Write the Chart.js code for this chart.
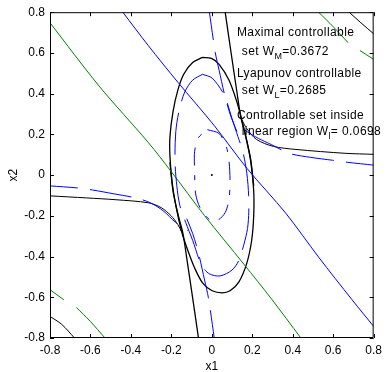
<!DOCTYPE html>
<html>
<head>
<meta charset="utf-8">
<script src="https://cdn.jsdelivr.net/npm/chart.js@4/dist/chart.umd.min.js"></script>
<style>
  html, body { margin: 0; padding: 0; background: #fff; }
  canvas { display: block; }
</style>
</head>
<body>
<canvas id="chart" width="387" height="372"></canvas>
<script>
// tick positions and labels
const tickValues = [-0.8, -0.6, -0.4, -0.2, 0, 0.2, 0.4, 0.6, 0.8];
const tickLabels = ['-0.8', '-0.6', '-0.4', '-0.2', '0', '0.2', '0.4', '0.6', '0.8'];

// curves, [x1, x2]
// maximal controllable set (black)
const blackEllipse = [[-0.046,0.578],[-0.002,0.573],[0.036,0.544],[0.085,0.466],[0.124,0.359],[0.148,0.272],[0.173,0.165],[0.192,0.068],[0.207,-0.078],[0.207,-0.199],[0.197,-0.320],[0.173,-0.432],[0.134,-0.524],[0.090,-0.568],[0.051,-0.578],[0.002,-0.568],[-0.046,-0.529],[-0.085,-0.456],[-0.119,-0.369],[-0.148,-0.282],[-0.178,-0.150],[-0.197,-0.029],[-0.207,0.092],[-0.207,0.189],[-0.192,0.311],[-0.168,0.417],[-0.139,0.495],[-0.095,0.553],[-0.046,0.578]];
const blackArmRight = [[0.8,0.102],[0.659,0.107],[0.416,0.126],[0.304,0.141],[0.221,0.175],[0.173,0.228],[0.148,0.272]];
const blackArmLeft = [[-0.8,-0.102],[-0.620,-0.112],[-0.474,-0.121],[-0.314,-0.136],[-0.250,-0.160],[-0.202,-0.199],[-0.168,-0.243],[-0.148,-0.282]];
const blackStemTop = [[0.066,0.8],[0.095,0.602],[0.124,0.408],[0.143,0.286],[0.168,0.189],[0.192,0.078],[0.207,-0.053]];
const blackStemBottom = [[-0.066,-0.8],[-0.095,-0.602],[-0.124,-0.408],[-0.143,-0.286],[-0.168,-0.189],[-0.192,-0.078],[-0.207,0.063]];
const blackCornerTR = [[0.679,0.8],[0.737,0.748],[0.8,0.694]];
const blackCornerBL = [[-0.8,-0.694],[-0.742,-0.733],[-0.679,-0.8]];
const originDot = [[0, 0]];

// green lines
const greenMain = [[-0.8,0.748],[-0.557,0.437],[-0.314,0.160],[-0.202,0.019],[-0.036,-0.199],[0.158,-0.437],[0.294,-0.607],[0.44,-0.8]];
const greenTRa = [[0.528,0.8],[0.601,0.728],[0.674,0.650]];
const greenTRb = [[0.732,0.612],[0.8,0.568]];
const greenBLa = [[-0.8,-0.563],[-0.732,-0.612]];
const greenBLb = [[-0.669,-0.650],[-0.601,-0.718],[-0.528,-0.8]];

// blue solid line
const blueLine = [[-0.440,0.8],[-0.314,0.636],[-0.168,0.456],[0.012,0.243],[0.173,0.034],[0.367,-0.189],[0.528,-0.403],[0.693,-0.612],[0.8,-0.743]];

// Lyapunov controllable set (blue dashed)
const blueEllipse = [[-0.046,0.495],[0.002,0.476],[0.061,0.393],[0.100,0.277],[0.129,0.189],[0.153,0.117],[0.173,0.010],[0.182,-0.102],[0.182,-0.199],[0.173,-0.282],[0.134,-0.417],[0.100,-0.466],[0.041,-0.495],[-0.012,-0.485],[-0.051,-0.442],[-0.095,-0.320],[-0.129,-0.233],[-0.158,-0.150],[-0.173,-0.053],[-0.182,0.068],[-0.178,0.214],[-0.163,0.311],[-0.134,0.408],[-0.095,0.466],[-0.046,0.495]];
const blueArmRight = [[0.8,0.049],[0.669,0.063],[0.596,0.073],[0.489,0.087],[0.382,0.107],[0.294,0.150],[0.231,0.180],[0.173,0.214],[0.114,0.262]];
const blueArmLeft = [[-0.8,-0.053],[-0.664,-0.063],[-0.591,-0.073],[-0.484,-0.092],[-0.377,-0.112],[-0.304,-0.136],[-0.241,-0.175],[-0.178,-0.233],[-0.119,-0.272]];
const blueStemTop = [[-0.012,0.8],[0.017,0.602],[0.036,0.515],[0.066,0.383],[0.095,0.286],[0.124,0.214]];
const blueStemBottom = [[0.012,-0.8],[-0.017,-0.602],[-0.036,-0.515],[-0.066,-0.383],[-0.095,-0.286],[-0.124,-0.214]];

// controllable set inside linear region (blue dash-dot)
const innerEllipse = [[-0.022,0.223],[0.036,0.204],[0.071,0.141],[0.085,0.068],[0.090,-0.029],[0.085,-0.117],[0.066,-0.184],[0.027,-0.223],[-0.012,-0.218],[-0.056,-0.165],[-0.080,-0.092],[-0.085,0.019],[-0.085,0.117],[-0.066,0.184],[-0.022,0.223]];

// annotation text: [x1, x2, normal, subscript, normal]
const notes = [
  [0.124, 0.684, 'Maximal controllable', '', ''],
  [0.148, 0.592, 'set W', 'M', '=0.3672'],
  [0.124, 0.481, 'Lyapunov controllable', '', ''],
  [0.148, 0.398, 'set W', 'L', '=0.2685'],
  [0.124, 0.277, 'Controllable set inside', '', ''],
  [0.148, 0.199, 'linear region W', 'l', '= 0.0698']
];

const FONT = '"Liberation Sans", Arial, sans-serif';

function pts(arr) {
  return arr.map(p => ({ x: p[0], y: p[1] }));
}

function line(arr, color, extra) {
  return Object.assign({
    data: pts(arr),
    borderColor: color,
    borderWidth: 1,
    pointRadius: 0,
    showLine: true,
    fill: false,
    tension: 0.3
  }, extra || {});
}

const lyapDash = { borderDash: [42, 12], borderDashOffset: 14 };
const innerDash = { borderDash: [18, 10, 5, 10] };

// plugin: box, inward ticks and the text notes
const boxAndNotes = {
  id: 'boxAndNotes',
  afterDatasetsDraw(chart) {
    const { ctx, chartArea: a, scales: { x, y } } = chart;
    ctx.save();
    ctx.strokeStyle = '#000';
    ctx.lineWidth = 1;
    ctx.beginPath();
    ctx.rect(a.left + 0.5, a.top + 0.5, a.right - a.left - 1, a.bottom - a.top - 1);
    ctx.stroke();

    ctx.beginPath();
    tickValues.forEach(v => {
      const px = Math.round(x.getPixelForValue(v)) + 0.5;
      ctx.moveTo(px, a.bottom); ctx.lineTo(px, a.bottom - 4);
      ctx.moveTo(px, a.top); ctx.lineTo(px, a.top + 4);
      const py = Math.round(y.getPixelForValue(v)) + 0.5;
      ctx.moveTo(a.left, py); ctx.lineTo(a.left + 4, py);
      ctx.moveTo(a.right, py); ctx.lineTo(a.right - 4, py);
    });
    ctx.stroke();

    ctx.fillStyle = '#000';
    ctx.textBaseline = 'alphabetic';
    ctx.textAlign = 'left';
    ctx.letterSpacing = '0.4px';
    notes.forEach(n => {
      let px = x.getPixelForValue(n[0]);
      const py = y.getPixelForValue(n[1]);
      ctx.font = '12px ' + FONT;
      ctx.fillText(n[2], px, py);
      px += ctx.measureText(n[2]).width;
      if (n[3]) {
        ctx.font = '9px ' + FONT;
        ctx.fillText(n[3], px, py + 4);
        px += ctx.measureText(n[3]).width;
        ctx.font = '12px ' + FONT;
        ctx.fillText(n[4], px, py);
      }
    });
    ctx.restore();
  }
};

document.addEventListener('DOMContentLoaded', () => {
  const ctx = document.getElementById('chart');
  new Chart(ctx, {
    type: 'scatter',
    data: {
      datasets: [
        line(innerEllipse, '#0000ff', innerDash),
        line(blueEllipse, '#0000ff', lyapDash),
        line(blueArmRight, '#0000ff', lyapDash),
        line(blueArmLeft, '#0000ff', lyapDash),
        line(blueStemTop, '#0000ff', lyapDash),
        line(blueStemBottom, '#0000ff', lyapDash),
        line(blueLine, '#0000ff'),
        line(greenMain, '#008000'),
        line(greenTRa, '#008000'),
        line(greenTRb, '#008000'),
        line(greenBLa, '#008000'),
        line(greenBLb, '#008000'),
        line(blackEllipse, '#000000', { borderWidth: 1.3 }),
        line(blackArmRight, '#000000'),
        line(blackArmLeft, '#000000'),
        line(blackStemTop, '#000000', { borderWidth: 1.3 }),
        line(blackStemBottom, '#000000', { borderWidth: 1.3 }),
        line(blackCornerTR, '#000000'),
        line(blackCornerBL, '#000000'),
        { data: pts(originDot), pointRadius: 1, pointBackgroundColor: '#000', pointBorderWidth: 0, showLine: false }
      ]
    },
    options: {
      responsive: false,
      animation: false,
      devicePixelRatio: 1,
      layout: { padding: { top: 9, right: 8, left: 0, bottom: 0 } },
      plugins: { legend: { display: false }, tooltip: { enabled: false } },
      scales: {
        x: {
          type: 'linear', position: 'bottom', min: -0.8, max: 0.8,
          afterBuildTicks: s => { s.ticks = tickValues.map(v => ({ value: v })); },
          afterFit: s => { s.height = 34; },
          ticks: { callback: (v, i) => tickLabels[i], color: '#000', font: { family: FONT, size: 12 }, padding: 5, maxRotation: 0, autoSkip: false },
          grid: { display: false, drawTicks: false },
          border: { display: false },
          title: { display: true, text: 'x1', color: '#000', font: { family: FONT, size: 12 }, padding: { top: 0, bottom: -2 } }
        },
        y: {
          type: 'linear', position: 'left', min: -0.8, max: 0.8,
          afterBuildTicks: s => { s.ticks = tickValues.map(v => ({ value: v })); },
          afterFit: s => { s.width = 50; },
          ticks: { callback: (v, i) => tickLabels[i], color: '#000', font: { family: FONT, size: 12 }, padding: 5, autoSkip: false },
          grid: { display: false, drawTicks: false },
          border: { display: false },
          title: { display: true, text: 'x2', color: '#000', font: { family: FONT, size: 12 }, padding: { top: 6, bottom: 0 } }
        }
      }
    },
    plugins: [boxAndNotes]
  });
});
</script>
</body>
</html>
